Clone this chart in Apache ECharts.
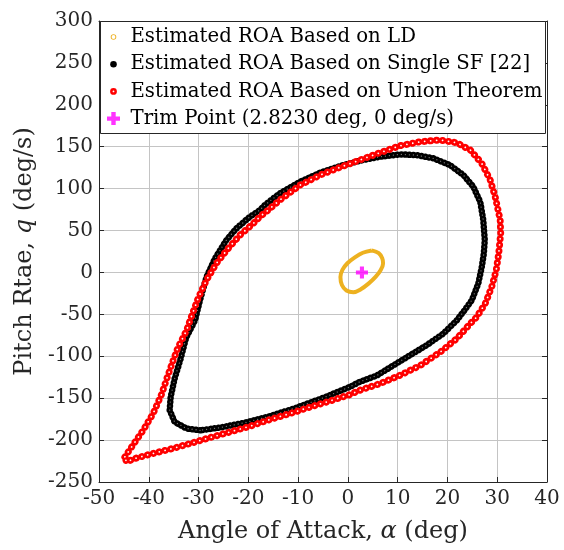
<!DOCTYPE html>
<html>
<head>
<meta charset="utf-8">
<script src="https://cdn.jsdelivr.net/npm/echarts@6.0.0/dist/echarts.min.js"></script>
<style>html,body{margin:0;padding:0;background:#fff}#c{width:564px;height:550px}</style>
</head>
<body>
<div id="c"></div>
<script>
// ---------- data ----------
const seriesNames = [
  'Estimated ROA Based on LD',
  'Estimated ROA Based on Single SF [22]',
  'Estimated ROA Based on Union Theorem',
  'Trim Point (2.8230 deg, 0 deg/s)'
];
const xTicks = [-50, -40, -30, -20, -10, 0, 10, 20, 30, 40];
const yTicks = [-250, -200, -150, -100, -50, 0, 50, 100, 150, 200, 250, 300];

// [alpha (deg), q (deg/s)]
const ldCurve = [
  [4.8,26.3],[6.2,23],[6.9,17],[7.07,10.7],[6.6,3],[5.6,-5],[4.2,-13],[2.6,-20],[1.1,-23.5],
  [-0.3,-21.5],[-1.2,-15],[-1.5,-5.3],[-1.1,3],[-0.1,11],[1.4,18],[3.0,23.5],[4.8,26.3]
];
const sfCurve = [
  [-29.7,-188.3],[-32.4,-186.2],[-34.8,-178.4],[-35.8,-164.4],[-35.6,-148.5],[-34.8,-126.6],
  [-33.6,-103],[-32.5,-78],[-30.7,-57],[-29.7,-33],[-28.4,-5.3],[-26.7,16.7],[-24.4,38.6],
  [-22.4,52.5],[-19.7,66.4],[-17.7,74.4],[-16.7,80.3],[-13.7,94.3],[-9.6,108.2],[-5.6,118.9],
  [-1.6,126.9],[2.4,133.3],[6.4,138],[10.5,140.9],[13.8,140.0],[17.2,136.1],[20.5,128.1],
  [23.2,116.2],[25.2,102.2],[26.6,84],[27.2,62.4],[27.5,38.6],[27.3,22],[26.9,6.7],
  [26.2,-13.1],[24.9,-33.1],[23.2,-47],[21.9,-57],[19.2,-72.8],[15.9,-86.5],[12.5,-98.7],
  [9.1,-111],[5.8,-123],[2.4,-130.5],[0.4,-136.5],[-4.9,-149.5],[-10.3,-161.2],[-15.7,-171.6],
  [-21.0,-179.6],[-25.7,-185.1],[-29.7,-188.3]
];
const unionCurve = [
  [-44.8,-220],[-43.2,-206],[-41.1,-188],[-39.1,-168],[-37.4,-145],[-36.4,-127],[-35.8,-117],
  [-35.1,-105],[-34.1,-89],[-33.4,-81],[-32.4,-69],[-31.7,-57],[-30.1,-31],[-28.4,-9],
  [-26.4,11],[-24.0,29],[-21.7,44.5],[-19.0,58.5],[-17.7,66.4],[-16.0,74.4],[-13.7,86.3],
  [-9.6,104.2],[-5.6,116.2],[-1.6,125.4],[2.4,134.1],[6.4,142.8],[10.5,151.2],[14.5,155.9],
  [18.5,158],[21.9,154.7],[24.6,146],[26.9,130.1],[28.6,110.2],[29.6,90.3],[30.6,62.4],
  [30.7,46.6],[30.3,22.7],[29.8,2.7],[28.9,-17.2],[27.6,-37],[25.9,-53],[24.6,-60.9],
  [21.9,-78.8],[18.6,-94.8],[14.6,-110.7],[10.5,-122.6],[6.5,-132.5],[2.4,-140.5],[0.4,-145.7],
  [-3.6,-153.3],[-7.6,-160.5],[-11.6,-168.3],[-15.7,-175.5],[-19.7,-183.5],[-23.7,-190.3],
  [-27.7,-197],[-31.8,-204.2],[-35.8,-211],[-39.8,-216.9],[-42.8,-222],[-44.5,-226],[-44.8,-220]
];
const trimPoint = [[2.823, 0]];

// ---------- styling ----------
const FONT = 'DejaVu Serif';
const AX = '#262626';
const GRIDC = '#c4c4c4';
const ORANGE = '#EDB120';

function ringIcon(ro, ri) {
  const c = 7;
  let p = 'path://M0 0 M14 14 ';
  p += `M${c-ro} ${c} A${ro} ${ro} 0 1 1 ${c+ro} ${c} A${ro} ${ro} 0 1 1 ${c-ro} ${c} Z `;
  if (ri > 0) p += `M${c-ri} ${c} A${ri} ${ri} 0 1 0 ${c+ri} ${c} A${ri} ${ri} 0 1 0 ${c-ri} ${c} Z`;
  return p;
}
const plusIcon = 'path://M0 0 M14 14 M4.8 0.5 H9.2 V4.8 H13.5 V9.2 H9.2 V13.5 H4.8 V9.2 H0.5 V4.8 H4.8 Z';

const xMin = xTicks[0], xMax = xTicks[xTicks.length - 1], xStep = xTicks[1] - xTicks[0];
const yMin = yTicks[0], yMax = yTicks[yTicks.length - 1], yStep = yTicks[1] - yTicks[0];

const baseAxis = (pos, min, max, step) => ({
  type: 'value', position: pos, min: min, max: max, interval: step,
  axisLine: { show: true, onZero: false, lineStyle: { color: AX, width: 1 } },
  axisTick: { show: true, inside: true, length: 5, lineStyle: { color: AX, width: 1 } },
  axisLabel: { show: false },
  splitLine: { show: false }
});

const chart = echarts.init(document.getElementById('c'), null, { renderer: 'canvas' });
const option = {
  animation: false,
  backgroundColor: '#fff',
  grid: { left: 99, right: 17, top: 21, bottom: 68, containLabel: false, outerBoundsMode: 'none' },
  xAxis: [
    Object.assign(baseAxis('bottom', xMin, xMax, xStep), {
      name: 'Angle of Attack, {i|α} (deg)', nameLocation: 'middle', nameGap: 38,
      nameTextStyle: { fontFamily: FONT, fontSize: 24, color: AX,
        rich: { i: { fontFamily: FONT, fontSize: 24, fontStyle: 'italic', color: AX } } },
      axisLabel: { show: true, fontFamily: FONT, fontSize: 20, color: AX, margin: 7 },
      splitLine: { show: true, lineStyle: { color: GRIDC, width: 1 } }
    }),
    baseAxis('top', xMin, xMax, xStep)
  ],
  yAxis: [
    Object.assign(baseAxis('left', yMin, yMax, yStep), {
      name: 'Pitch Rtae, {i|q} (deg/s)', nameLocation: 'middle', nameGap: 59,
      nameTextStyle: { fontFamily: FONT, fontSize: 24, color: AX,
        rich: { i: { fontFamily: FONT, fontSize: 24, fontStyle: 'italic', color: AX } } },
      axisLabel: { show: true, fontFamily: FONT, fontSize: 20, color: AX, margin: 6 },
      splitLine: { show: true, lineStyle: { color: GRIDC, width: 1 } }
    }),
    baseAxis('right', yMin, yMax, yStep)
  ],
  legend: {
    orient: 'vertical', left: 106.5, top: 26, padding: 0,
    itemWidth: 24, itemHeight: 14, itemGap: 5.2, selectedMode: false, z: 6,
    textStyle: { fontFamily: FONT, fontSize: 19.7, lineHeight: 22, color: '#000' },
    data: [
      { name: seriesNames[0], icon: ringIcon(2.8, 1.9), itemStyle: { color: ORANGE, borderWidth: 0 } },
      { name: seriesNames[1], icon: ringIcon(3.3, 0), itemStyle: { color: '#000', borderWidth: 0 } },
      { name: seriesNames[2], icon: ringIcon(3.4, 0.9), itemStyle: { color: '#ff0000', borderWidth: 0 } },
      { name: seriesNames[3], icon: plusIcon, itemStyle: { color: '#ff00ff', borderWidth: 0 } }
    ]
  },
  graphic: [{
    type: 'rect', z: 4, silent: true,
    shape: { x: 100.5, y: 21.5, width: 445, height: 112 },
    style: { fill: '#fff', stroke: AX, lineWidth: 1 }
  }],
  series: [
    { name: seriesNames[0], type: 'line', data: ldCurve, symbol: 'none', smooth: 0.35,
      lineStyle: { color: ORANGE, width: 4 }, itemStyle: { color: ORANGE }, z: 2 },
    { name: seriesNames[1], type: 'line', data: sfCurve, symbol: 'none',
      lineStyle: { color: '#000', width: 6.5, type: [0.01, 4], cap: 'round' }, itemStyle: { color: '#000' }, z: 2 },
    { name: 'sf-center', type: 'line', data: sfCurve, symbol: 'none', silent: true,
      lineStyle: { color: '#7a7a7a', width: 1.3, type: [0.01, 4], cap: 'round' }, z: 2 },
    { name: seriesNames[2], type: 'line', data: unionCurve, symbol: 'none',
      lineStyle: { color: '#ff0000', width: 7, type: [0.01, 6], cap: 'round' }, itemStyle: { color: '#ff0000' }, z: 3 },
    { name: 'union-center', type: 'line', data: unionCurve, symbol: 'none', silent: true,
      lineStyle: { color: '#ffffff', width: 1.8, type: [0.01, 6], cap: 'round' }, z: 3 },
    { name: seriesNames[3], type: 'scatter', data: trimPoint, symbol: plusIcon, symbolSize: 13,
      itemStyle: { color: '#ff00ff' }, z: 5 }
  ]
};
chart.setOption(option);
</script>
</body>
</html>
